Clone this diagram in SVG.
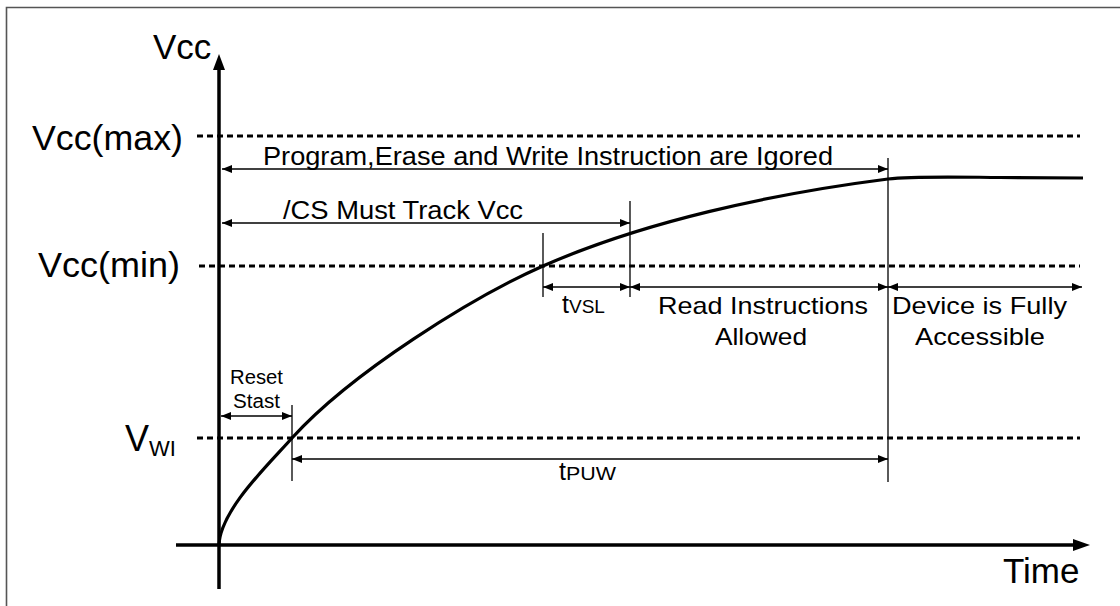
<svg xmlns="http://www.w3.org/2000/svg" width="1120" height="606" viewBox="0 0 1120 606">
<defs>
<style>
text{font-family:"Liberation Sans",Arial,sans-serif;fill:#000}
.big{font-size:35px}
.lbl{font-size:25px}
.lbl2{font-size:24px}
.sm{font-size:19.5px}
.dash{stroke:#000;stroke-width:3;stroke-dasharray:6 4;fill:none}
.thin{stroke:#000;stroke-width:1.3;fill:none}
.dim{stroke:#000;stroke-width:1.3;fill:none;marker-end:url(#ah);marker-start:url(#ah)}
</style>
<marker id="ah" viewBox="0 0 10 8" refX="10" refY="4" markerWidth="10" markerHeight="8" markerUnits="userSpaceOnUse" orient="auto-start-reverse">
<path d="M0,0 L10,4 L0,8 z" fill="#000"/>
</marker>
</defs>
<rect x="0" y="0" width="1120" height="606" fill="#fff"/>
<g id="frame">
<path d="M6.5,606 L6.5,7.5 L1120,7.5" fill="none" stroke="#555" stroke-width="1.6"/>
</g>
<g id="axes">
<line x1="219" y1="68" x2="219" y2="589" stroke="#000" stroke-width="3.5"/>
<path d="M219,54 L225,70 L213,70 z" fill="#000"/>
<line x1="176" y1="545" x2="1075" y2="545" stroke="#000" stroke-width="3.5"/>
<path d="M1090,545 L1073,539 L1073,551 z" fill="#000"/>
<text class="big" x="153" y="59" font-size="36">Vcc</text>
<text class="big" x="1003" y="583" font-size="36">Time</text>
</g>
<g id="levels">
<line class="dash" x1="197" y1="136" x2="1080" y2="136"/>
<line class="dash" x1="199" y1="266" x2="1080" y2="266"/>
<line class="dash" x1="197" y1="438" x2="1080" y2="438"/>
<text class="big" x="32" y="150" textLength="151" lengthAdjust="spacingAndGlyphs">Vcc(max)</text>
<text class="big" x="38" y="277" textLength="142" lengthAdjust="spacingAndGlyphs">Vcc(min)</text>
<text x="125" y="451" font-size="36">V<tspan font-size="22" dy="5">WI</tspan></text>
</g>
<g id="curve">
<path d="M219,545 C220,510 270,463 292,438 C352,372 473,297 543,266 C643,222 770,194 888,179 C913,176 950,177 1000,177.5 L1083,178" fill="none" stroke="#000" stroke-width="3.2"/>
</g>
<g id="markers">
<line class="thin" x1="292" y1="405" x2="292" y2="481"/>
<line class="thin" x1="543" y1="233" x2="543" y2="297"/>
<line class="thin" x1="630" y1="201" x2="630" y2="297"/>
<line class="thin" x1="888" y1="158" x2="888" y2="482"/>
</g>
<g id="connectors">
<line class="dim" x1="222" y1="169" x2="888" y2="169"/>
<line class="dim" x1="222" y1="223" x2="630" y2="223"/>
<line class="dim" x1="221" y1="416" x2="292" y2="416"/>
<line class="dim" x1="543" y1="287" x2="630" y2="287"/>
<line class="dim" x1="630" y1="287" x2="888" y2="287"/>
<line class="dim" x1="888" y1="287" x2="1082" y2="287"/>
<line class="dim" x1="292" y1="459" x2="888" y2="459"/>
</g>
<g id="label-program"><text class="lbl" x="263" y="165" textLength="570" lengthAdjust="spacingAndGlyphs">Program,Erase and Write Instruction are Igored</text></g>
<g id="label-cs"><text class="lbl" x="283" y="219" textLength="240" lengthAdjust="spacingAndGlyphs">/CS Must Track Vcc</text></g>
<g id="label-tvsl"><text x="562" y="313" font-size="25">t<tspan font-size="18" textLength="36" lengthAdjust="spacingAndGlyphs">VSL</tspan></text></g>
<g id="label-read">
<text class="lbl2" x="658" y="314" textLength="210" lengthAdjust="spacingAndGlyphs">Read Instructions</text>
<text class="lbl2" x="715" y="345" textLength="92" lengthAdjust="spacingAndGlyphs">Allowed</text>
</g>
<g id="label-device">
<text class="lbl2" x="892" y="314" textLength="175" lengthAdjust="spacingAndGlyphs">Device is Fully</text>
<text class="lbl2" x="915" y="345" textLength="130" lengthAdjust="spacingAndGlyphs">Accessible</text>
</g>
<g id="label-reset">
<text class="sm" x="230" y="384" textLength="53" lengthAdjust="spacingAndGlyphs">Reset</text>
<text class="sm" x="233" y="408" textLength="47" lengthAdjust="spacingAndGlyphs">Stast</text>
</g>
<g id="label-tpuw"><text x="559" y="480" font-size="25">t<tspan font-size="19" textLength="50" lengthAdjust="spacingAndGlyphs">PUW</tspan></text></g>
</svg>
